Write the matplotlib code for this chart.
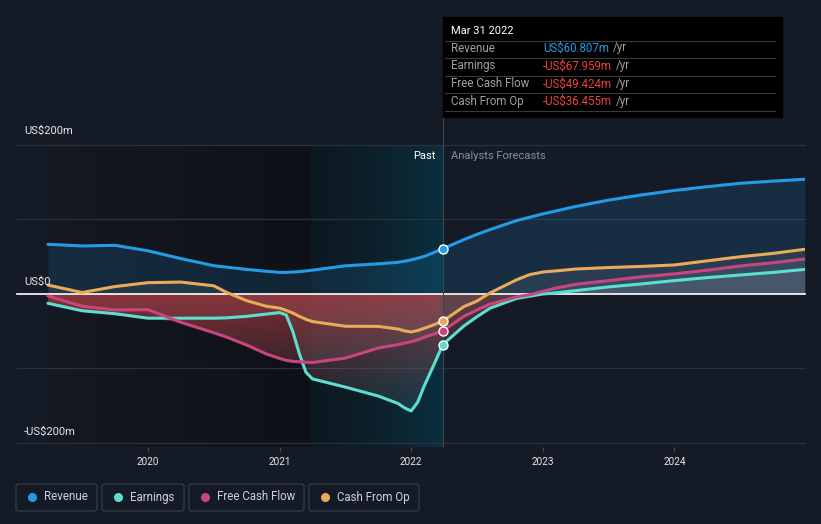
import numpy as np
import matplotlib
matplotlib.use('Agg')
import matplotlib.pyplot as plt
from matplotlib.patches import Polygon, FancyBboxPatch
from matplotlib.colors import to_rgb

plt.rcParams['font.family'] = ['Roboto', 'DejaVu Sans']

# values in US$m
years = [2019.24, 2019.5, 2019.75, 2020.0, 2020.25, 2020.5, 2020.6, 2020.75,
         2020.9, 2021.0, 2021.05, 2021.1, 2021.15, 2021.2, 2021.25, 2021.5,
         2021.75, 2021.9, 2021.95, 2022.0, 2022.05, 2022.1, 2022.17, 2022.24,
         2022.4, 2022.5, 2022.6, 2022.8, 2022.9, 2023.0, 2023.1, 2023.25,
         2023.5, 2023.75, 2024.0, 2024.25, 2024.5, 2024.75, 2024.99]
revenue = [66.7, 64.5, 65.3, 58, 47.5, 38, 36, 33,
           30.5, 29, 29, 29.5, 30, 31, 32, 37.8,
           40.5, 42.5, 44, 45.8, 48, 50.5, 55.5, 60.8,
           73, 80, 86.5, 98.5, 103, 107.5, 111.5, 117.5,
           126, 133, 139, 144, 148.6, 151.5, 154]
earnings = [-12.5, -22.5, -26.5, -32.5, -32.5, -32.5, -32, -30,
            -27, -25, -28, -50, -80, -105, -114, -125,
            -137, -147, -153, -157, -145, -123, -96, -68,
            -43, -30.5, -19, -6, -3, 0, 1.5, 4.5,
            9.5, 13.5, 18, 22, 25.5, 29, 33]
fcf = [-2.7, -16.5, -21.5, -21, -38, -52, -58, -68.5,
       -80.5, -86.5, -89, -90.5, -91, -91.5, -92, -86,
       -72.5, -68, -66, -64, -61.5, -58, -54, -49.4,
       -30, -21.5, -13.5, -4, -1, 3.5, 8, 13,
       18, 23, 27, 32, 37.6, 42, 47]
cfo = [12, 2, 10, 15.2, 16, 11, 2, -9,
       -16.5, -19, -22, -25.5, -30, -34, -37, -43.3,
       -43.5, -47, -49.5, -51, -49, -46, -41.5, -36.5,
       -17, -9.5, 1.5, 19, 26, 29.5, 31, 33.5,
       35.5, 37, 39, 44.5, 50, 54.5, 60]

series_names = ['Revenue', 'Earnings', 'Free Cash Flow', 'Cash From Op']
series_colors = ['#239be6', '#5cded0', '#c8457f', '#e9ab5a']
tooltip_values = ['US$60.807m', '-US$67.959m', '-US$49.424m', '-US$36.455m']
year_ticks = [2020, 2021, 2022, 2023, 2024]

NOW = 2022.24
HIGHLIGHT_START = 2021.24
BG = '#151b26'
W, H = 821, 524
FS = 8


def fx(x):
    return x / W


def fy(y):
    return 1 - y / H


fig = plt.figure(figsize=(W / 100, H / 100), dpi=100, facecolor=BG)
ax = fig.add_axes([fx(17), fy(447), 788 / W, 302 / H])
ax.set_facecolor(BG)
X0, X1 = 2019.005, 2024.992
Y0, Y1 = -205.4, 200
ax.set_xlim(X0, X1)
ax.set_ylim(Y0, Y1)

yrs = np.array(years)
# past background: dark band, then teal highlight before "now"
dark = np.zeros((2, 200, 4))
c1, c2 = np.array(to_rgb('#141922')), np.array(to_rgb('#0e1117'))
for i in range(200):
    t = i / 199
    dark[:, i, :3] = c1 * (1 - t) + c2 * t
dark[:, :, 3] = 1
ax.imshow(dark, extent=[years[0], HIGHLIGHT_START, Y0, Y1], aspect='auto', zorder=0)
teal = np.zeros((2, 200, 4))
c1, c2 = np.array(to_rgb('#0e1820')), np.array(to_rgb('#0a2f3e'))
for i in range(200):
    t = (i / 199) ** 1.3
    teal[:, i, :3] = c1 * (1 - t) + c2 * t
teal[:, :, 3] = 1
ax.imshow(teal, extent=[HIGHLIGHT_START, NOW, Y0, Y1], aspect='auto', zorder=0)

# grid
for v in [200, 100, -100, -200]:
    ax.axhline(v, color='#2c323d', lw=0.9, zorder=1, clip_on=False)

# revenue fill
ax.fill_between(yrs, 0, revenue, color=series_colors[0], alpha=0.15, lw=0, zorder=2)

# grey fills for the other series
for vals in [earnings, fcf, cfo]:
    ax.fill_between(yrs, 0, vals, color='white', alpha=0.075, lw=0, zorder=2)

# red gradient under zero, clipped to the lowest curve
env = np.minimum.reduce([np.array(earnings), np.array(fcf), np.array(cfo), np.zeros(len(yrs))])
verts = np.column_stack([np.r_[yrs, yrs[::-1]], np.r_[env, np.zeros(len(yrs))]])
clip = Polygon(verts, closed=True, transform=ax.transData, facecolor='none', edgecolor='none')
ax.add_patch(clip)
nx, ny = 400, 200
gx = np.linspace(X0, X1, nx)
gy = np.linspace(0, Y0, ny)
red = np.zeros((ny, nx, 4))
red[:, :, :3] = to_rgb('#c0333a')
base = np.where(gx <= NOW, 0.62, 0.28)
fade = np.clip(1 + gy / 150, 0, 1) ** 1.3
red[:, :, 3] = fade[:, None] * base[None, :]
im = ax.imshow(red, extent=[X0, X1, Y0, 0], origin='upper', aspect='auto', zorder=2)
im.set_clip_path(clip)

# zero line
ax.axhline(0, color='white', lw=1.2, zorder=3, clip_on=False)

# lines
all_series = [revenue, earnings, fcf, cfo]
for vals, col in zip(all_series, series_colors):
    ax.plot(yrs, vals, color=col, lw=2.2, zorder=4, solid_capstyle='round',
            solid_joinstyle='round')
    v_now = vals[years.index(NOW)]
    ax.plot([NOW], [v_now], 'o', ms=6.5, color=col, mec='white', mew=1, zorder=6)

# now divider
ax.plot([NOW, NOW], [Y0, Y1], color='#3c4654', lw=0.8, zorder=3)
fig.add_artist(plt.Line2D([fx(443), fx(443)], [fy(117), fy(145)], color='#3c4654', lw=0.8))

for s in ax.spines.values():
    s.set_visible(False)
ax.set_yticks([])
ax.set_xticks(year_ticks)
ax.set_xticklabels([str(y) for y in year_ticks])
ax.tick_params(axis='x', length=3, color='#4a505a', labelcolor='#e6e6e6',
               labelsize=7.2, pad=4)

# y labels
fig.text(fx(24), fy(131), 'US$200m', color='#e6e6e6', fontsize=FS, va='center')
fig.text(fx(24), fy(282), 'US$0', color='#e6e6e6', fontsize=FS, va='center')
fig.text(fx(24), fy(432), '-US$200m', color='#e6e6e6', fontsize=FS, va='center')

fig.text(fx(435), fy(156), 'Past', color='white', fontsize=FS, ha='right', va='center')
fig.text(fx(451), fy(156), 'Analysts Forecasts', color='#8a9099', fontsize=FS, va='center')

# tooltip
fig.add_artist(plt.Rectangle((fx(443), fy(117)), 339 / W, 100 / H, color='black', zorder=10))
fig.text(fx(451), fy(31), 'Mar 31 2022', color='white', fontsize=FS, va='center', zorder=11)
row_y = [48, 66, 84, 101]
for yy in [41, 58, 76, 93, 111]:
    fig.add_artist(plt.Line2D([fx(445), fx(775)], [fy(yy), fy(yy)], color='#3a3a3a', lw=0.8, zorder=11))
for name, val, yy, i in zip(series_names, tooltip_values, row_y, range(4)):
    fig.text(fx(451), fy(yy), name, color='#a0a0a0', fontsize=8.3, va='center', zorder=11)
    vcol = series_colors[0] if i == 0 else '#f0413f'
    t = fig.text(fx(543), fy(yy), val, color=vcol, fontsize=8.3, va='center', zorder=11)
    fig.canvas.draw()
    bb = t.get_window_extent()
    fig.text(bb.x1 / W + fx(4), fy(yy), '/yr', color='#a0a0a0', fontsize=8.3, va='center', zorder=11)

# legend boxes
boxes = [(16, 97), (102, 184), (189, 304), (309, 419)]
for (x0, x1), name, col in zip(boxes, series_names, series_colors):
    fig.add_artist(FancyBboxPatch((fx(x0), fy(511)), (x1 - x0) / W, 27 / H,
                                  boxstyle='round,pad=0,rounding_size=0.004',
                                  facecolor='none', edgecolor='#3a404b', lw=0.8))
    fig.add_artist(plt.Line2D([fx(x0 + 16)], [fy(497)], marker='o', ms=5.5, color=col, mec=col))
    fig.text(fx(x0 + 28), fy(497), name, color='#cfd2d6', fontsize=8.3, va='center')

fig.savefig('out.png', dpi=100, facecolor=BG)
